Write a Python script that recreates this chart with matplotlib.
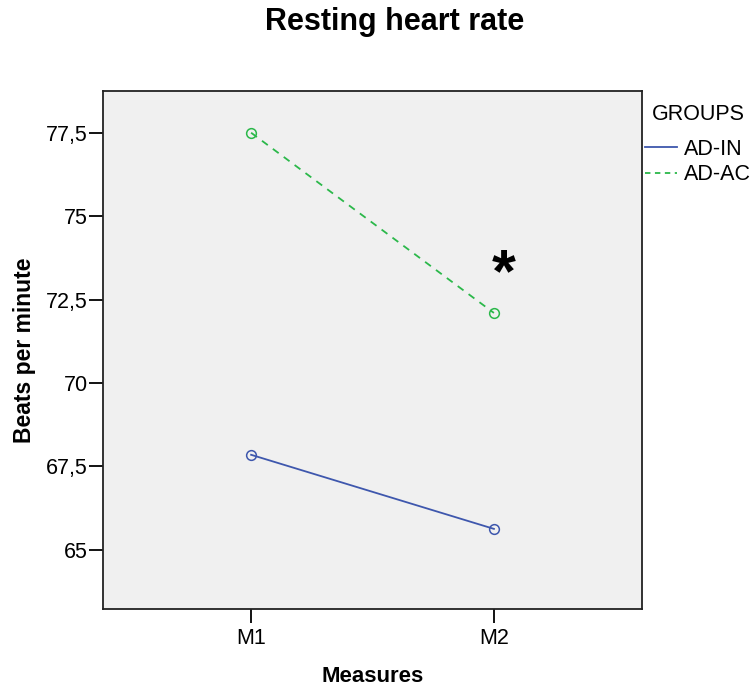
import matplotlib
matplotlib.use("Agg")
import matplotlib.pyplot as plt
from matplotlib.lines import Line2D
from matplotlib.ticker import FuncFormatter

measures = ["M1", "M2"]
ad_in = [67.85, 65.63]
ad_ac = [77.5, 72.1]
groups = ["AD-IN", "AD-AC"]
y_ticks = [65, 67.5, 70, 72.5, 75, 77.5]

blue = "#3e57ad"
green = "#2bb84a"

plt.rcParams["font.family"] = ["Liberation Sans", "DejaVu Sans"]

fig = plt.figure(figsize=(7.54, 6.91), dpi=100)
ax = fig.add_axes([0.1366, 0.1187, 0.7149, 0.7496])
ax.set_facecolor("#f0f0f0")

x = list(range(len(measures)))
ax.plot(x, ad_in, color=blue, lw=1.3, marker="o", ms=7, mfc="none", mec=blue, mew=1.1)
ax.plot(x, ad_ac, color=green, lw=1.3, ls=(0, (4, 3.5)), marker="o", ms=7, mfc="none", mec=green, mew=1.1)

# significance marker next to M2
ax.text(1.04, 73.23, "*", fontsize=44, fontweight="bold", ha="center", va="center")

ax.set_xlim(-0.61, 1.61)
ax.set_ylim(63.23, 78.75)
ax.set_xticks(x)
ax.set_xticklabels(measures)
ax.set_yticks(y_ticks)
ax.yaxis.set_major_formatter(FuncFormatter(lambda v, p: f"{v:g}".replace(".", ",")))
ax.tick_params(direction="out", length=10, width=1.3, labelsize=15.5, pad=1)
ax.tick_params(axis="x", pad=4)
for s in ax.spines.values():
    s.set_linewidth(1.3)
    s.set_color("#222222")

ax.set_xlabel("Measures", fontsize=16, fontweight="bold", labelpad=12)
ax.set_ylabel("Beats per minute", fontsize=16.5, fontweight="bold", labelpad=7)
fig.text(0.524, 0.968, "Resting heart rate", fontsize=22, fontweight="bold", ha="center", va="center")

handles = [Line2D([], [], color=blue, lw=1.3),
           Line2D([], [], color=green, lw=1.3, ls=(0, (3, 2.5)))]
leg = ax.legend(handles, groups, title="GROUPS", loc="upper left",
                bbox_to_anchor=(1.005, 0.975), frameon=False, fontsize=15.5,
                title_fontsize=15.5, handlelength=1.5, handletextpad=0.3,
                labelspacing=0.2, borderaxespad=0.0, borderpad=0.0)
leg._legend_box.align = "left"
leg._legend_box.sep = 10
leg.get_title().set_position((7, 0))

fig.savefig("out.png", dpi=100)
